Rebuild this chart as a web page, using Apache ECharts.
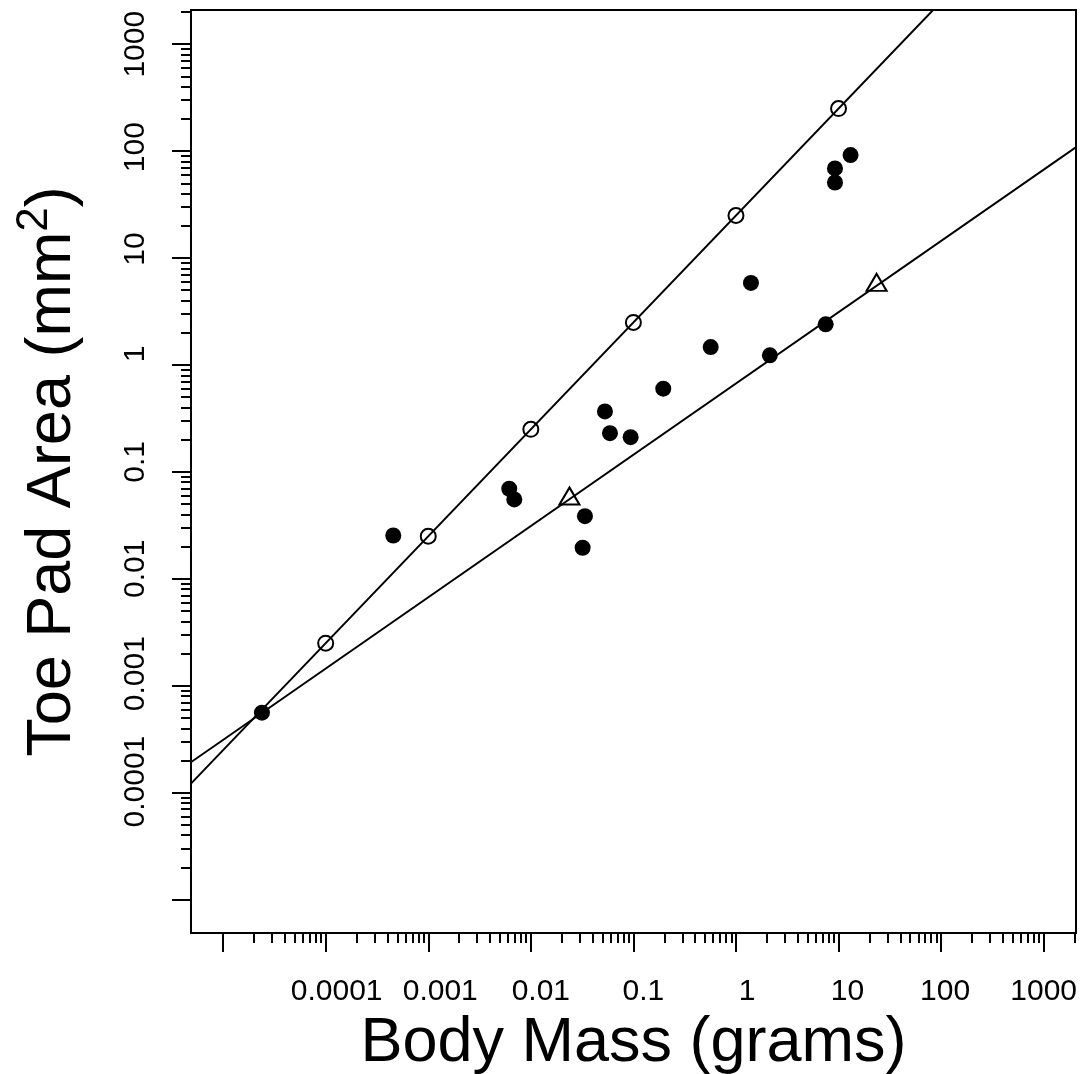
<!DOCTYPE html>
<html>
<head>
<meta charset="utf-8">
<title>Toe pad area vs body mass</title>
<script src="https://cdn.jsdelivr.net/npm/echarts@6.0.0/dist/echarts.min.js"></script>
<style>
  html, body { margin: 0; padding: 0; background: #fff; }
  #chart { width: 1084px; height: 1074px; }
</style>
</head>
<body>
<div id="chart"></div>
<script>
// measured species: [body mass (g), toe pad area (mm2)]
const speciesPoints = [
  [2.39e-5, 5.6e-4],
  [4.56e-4, 0.0254],
  [0.00616, 0.0695],
  [0.0069, 0.0552],
  [0.032, 0.0195],
  [0.0337, 0.0385],
  [0.0528, 0.368],
  [0.0591, 0.23],
  [0.094, 0.211],
  [0.1955, 0.6],
  [0.567, 1.47],
  [1.4, 5.85],
  [2.14, 1.23],
  [7.49, 2.4],
  [9.23, 68.9],
  [9.23, 50.9],
  [13.1, 91.8]
];
// isometric reference (open circles) and allometric reference (triangles)
const isometryPoints = [
  [0.0001, 0.0025],
  [0.001, 0.025],
  [0.01, 0.25],
  [0.1, 2.5],
  [1, 25],
  [10, 250]
];
const trianglePoints = [
  [0.0238, 0.0558],
  [23.5, 5.55]
];
// end points of the two straight lines (they get clipped to the box)
const isometryLine = [[1e-6, 2.5e-5], [1e4, 2.5e5]];
const allometryLine = [[1e-6, 6.71e-5], [1e4, 311]];

const xMin = Math.pow(10, -5.313);
const xMax = Math.pow(10, 3.315);
const yMin = Math.pow(10, -5.313);
const yMax = Math.pow(10, 3.32);

const xMajorTicks = [1e-5, 1e-4, 1e-3, 1e-2, 0.1, 1, 10, 100, 1000];
const yMajorTicks = [1e-5, 1e-4, 1e-3, 1e-2, 0.1, 1, 10, 100, 1000];
const xLabelValues = [1e-4, 1e-3, 1e-2, 0.1, 1, 10, 100, 1000];
const xTickLabels = ['0.0001', '0.001', '0.01', '0.1', '1', '10', '100', '1000'];
const yLabelValues = [1e-4, 1e-3, 1e-2, 0.1, 1, 10, 100, 1000];
const yTickLabels = ['0.0001', '0.001', '0.01', '0.1', '1', '10', '100', '1000'];

function minorTicks(lo, hi) {
  const out = [];
  for (let e = -6; e <= 4; e++) {
    for (let m = 2; m <= 9; m++) {
      const v = m * Math.pow(10, e);
      if (v >= lo && v <= hi) out.push(v);
    }
  }
  return out;
}
const xMinorTicks = minorTicks(1e-5, xMax);
const yMinorTicks = minorTicks(1e-5, yMax);

const FONT = '"Liberation Sans", Arial, Helvetica, sans-serif';
const tickStyle = { color: '#000', width: 2 };

// the original labels sit a little past their ticks (reading direction)
const labelNudge = [11, 12, 10, 10, 11, 9, 4, 0];
const labelRich = {};
labelNudge.forEach((n, i) => {
  labelRich['n' + i] = { fontSize: 30, fontFamily: FONT, color: '#000', padding: [0, 0, 0, n * 2] };
});

function labelFor(values, labels) {
  return function (v) {
    const i = values.findIndex(t => Math.abs(Math.log10(t) - Math.log10(v)) < 1e-6);
    return i < 0 ? '' : '{n' + i + '|' + labels[i] + '}';
  };
}

function logAxis(min, max, extra) {
  return Object.assign({
    type: 'log',
    logBase: 10,
    min: min,
    max: max,
    axisLine: { show: false },
    splitLine: { show: false },
    minorTick: { show: false },
    minorSplitLine: { show: false }
  }, extra);
}

const chart = echarts.init(document.getElementById('chart'), null, { renderer: 'canvas' });

chart.setOption({
  animation: false,
  backgroundColor: '#fff',
  grid: {
    left: 191,
    top: 10,
    right: 8,
    bottom: 141,
    show: true,
    borderColor: '#000',
    borderWidth: 2,
    backgroundColor: 'transparent',
    outerBoundsMode: 'none',
    containLabel: false
  },
  xAxis: [
    logAxis(xMin, xMax, {
      position: 'bottom',
      name: 'Body Mass (grams)',
      nameLocation: 'middle',
      nameGap: 71,
      nameTextStyle: { fontSize: 63, fontFamily: FONT, color: '#000' },
      axisTick: { show: true, length: 19, inside: false, customValues: xMajorTicks, lineStyle: tickStyle },
      axisLabel: {
        show: true,
        customValues: xLabelValues,
        formatter: labelFor(xLabelValues, xTickLabels),
        margin: 44,
        fontSize: 30,
        fontFamily: FONT,
        color: '#000',
        rich: labelRich
      }
    }),
    logAxis(xMin, xMax, {
      position: 'bottom',
      axisTick: { show: true, length: 10, inside: false, customValues: xMinorTicks, lineStyle: tickStyle },
      axisLabel: { show: false }
    })
  ],
  yAxis: [
    logAxis(yMin, yMax, {
      position: 'left',
      name: '{t|Toe Pad Area (mm}{s|2}{t|)}',
      nameLocation: 'middle',
      nameRotate: 90,
      nameGap: 107,
      nameTextStyle: {
        fontSize: 63,
        fontFamily: FONT,
        color: '#000',
        rich: {
          t: { fontSize: 63, fontFamily: FONT, color: '#000' },
          s: { fontSize: 44, fontFamily: FONT, color: '#000', verticalAlign: 'top', height: 28 }
        }
      },
      axisTick: { show: true, length: 19, inside: false, customValues: yMajorTicks, lineStyle: tickStyle },
      axisLabel: {
        show: true,
        customValues: yLabelValues,
        formatter: labelFor(yLabelValues, yTickLabels),
        rotate: 90,
        margin: 40,
        fontSize: 30,
        fontFamily: FONT,
        color: '#000',
        rich: labelRich
      }
    }),
    logAxis(yMin, yMax, {
      position: 'left',
      axisTick: { show: true, length: 10, inside: false, customValues: yMinorTicks, lineStyle: tickStyle },
      axisLabel: { show: false }
    })
  ],
  series: [
    {
      type: 'line',
      data: isometryLine,
      symbol: 'none',
      clip: true,
      lineStyle: { color: '#000', width: 2, opacity: 1 },
      z: 1
    },
    {
      type: 'line',
      data: allometryLine,
      symbol: 'none',
      clip: true,
      lineStyle: { color: '#000', width: 2, opacity: 1 },
      z: 1
    },
    {
      type: 'scatter',
      data: isometryPoints,
      symbol: 'circle',
      symbolSize: 15,
      itemStyle: { color: 'rgba(0,0,0,0)', borderColor: '#000', borderWidth: 2, opacity: 1 },
      z: 3
    },
    {
      type: 'scatter',
      data: trianglePoints,
      symbol: 'triangle',
      symbolSize: [20, 17],
      symbolOffset: [0, -3],
      itemStyle: { color: 'rgba(0,0,0,0)', borderColor: '#000', borderWidth: 2, opacity: 1 },
      z: 3
    },
    {
      type: 'scatter',
      data: speciesPoints,
      symbol: 'circle',
      symbolSize: 16,
      itemStyle: { color: '#000', opacity: 1 },
      z: 4
    }
  ]
});
</script>
</body>
</html>
